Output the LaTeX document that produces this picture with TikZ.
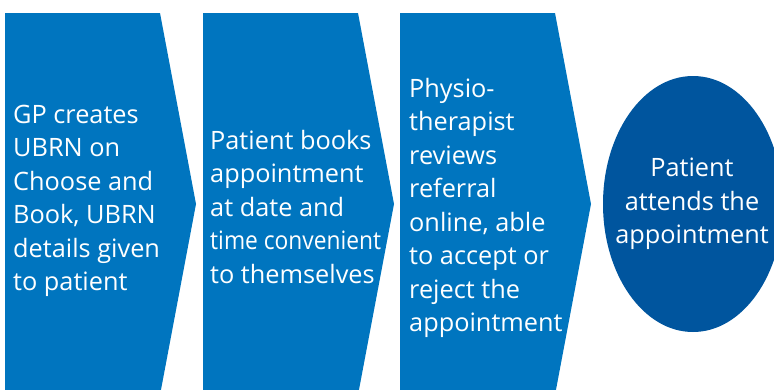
\documentclass[tikz,border=0pt]{standalone}
\usepackage{fontspec}
\setmainfont{Open Sans}
\definecolor{chevblue}{HTML}{0075BF}
\definecolor{ovalblue}{HTML}{00559E}
\begin{document}
\begin{tikzpicture}[x=1pt,y=-1pt,
  steptext/.style={text=white,inner sep=0pt,align=left,anchor=west,
    font=\fontsize{25.3}{33.5}\selectfont},
  ovaltext/.style={text=white,inner sep=0pt,align=center,
    font=\fontsize{25.3}{33.5}\selectfont}]
\useasboundingbox (0,0) rectangle (774,389);
\clip (0,0) rectangle (774,389);
\fill[chevblue] (5,13) -- (160,13) -- (196,204) -- (160,395) -- (5,395) -- cycle;
\fill[chevblue] (203,13) -- (358,13) -- (394,204) -- (358,395) -- (203,395) -- cycle;
\fill[chevblue] (400,13) -- (555,13) -- (591,204) -- (555,395) -- (400,395) -- cycle;
\fill[ovalblue] (693,204) ellipse [x radius=90, y radius=128];
\node[steptext] (t1) at (13,201) {GP creates\\UBRN on\\Choose and\\Book, UBRN\\details given\\to patient};
\node[steptext] (t2) at (210,207) {Patient books\\appointment\\at date and\\\scalebox{0.9}[1]{time convenient}\\to themselves};
\node[steptext] (t3) at (409,208) {Physio-\\therapist\\reviews\\referral\\online, able\\to accept or\\reject the\\appointment};
\node[ovaltext] (t4) at (692,204) {Patient\\attends the\\appointment};
\end{tikzpicture}
\end{document}
